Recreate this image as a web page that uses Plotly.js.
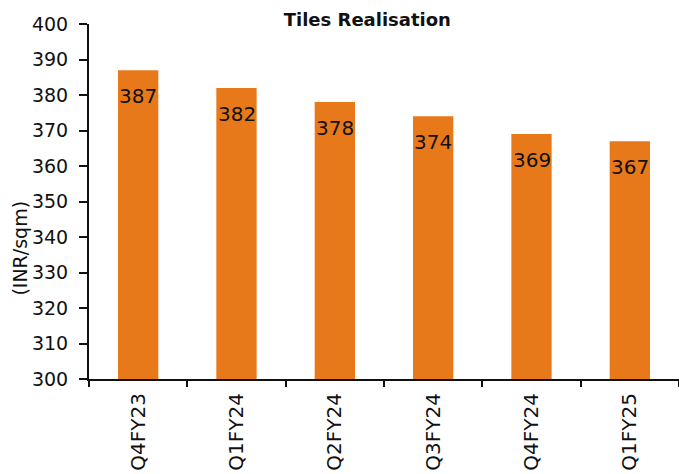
<!DOCTYPE html>
<html>
<head>
<meta charset="utf-8">
<script src="https://cdn.plot.ly/plotly-3.0.1.min.js"></script>
<style>html,body{margin:0;padding:0;background:#fff;}#chart{width:679px;height:474px;}</style>
</head>
<body>
<div id="chart"></div>
<script>
const categories = ["Q4FY23", "Q1FY24", "Q2FY24", "Q3FY24", "Q4FY24", "Q1FY25"];
const realisation = [387, 382, 378, 374, 369, 367];
const yTickValues = [300, 310, 320, 330, 340, 350, 360, 370, 380, 390, 400];

const FONT = "DejaVu Sans, Arial, sans-serif";

const trace = {
  type: "bar",
  x: categories,
  y: realisation,
  marker: {color: "#E8791A", line: {width: 0}},
  width: 0.41,
  hoverinfo: "x+y"
};

const labels = categories.map((c, i) => ({
  x: c, y: realisation[i], xref: "x", yref: "y",
  text: String(realisation[i]), showarrow: false,
  yshift: -26, font: {family: FONT, size: 20, color: "#111"}
}));

labels.push({
  xref: "paper", yref: "paper", x: -0.117, y: 0.37, xanchor: "center", yanchor: "middle",
  text: "(INR/sqm)", textangle: -90, showarrow: false,
  font: {family: FONT, size: 19, color: "#111"}
});

const layout = {
  width: 679, height: 474,
  margin: {l: 89, r: 0, t: 24, b: 95},
  paper_bgcolor: "#fff", plot_bgcolor: "#fff",
  showlegend: false,
  title: {text: "<b>Tiles Realisation</b>", x: 0.541, xanchor: "center", y: 0.958, yanchor: "middle",
          font: {family: FONT, size: 18, color: "#111"}},
  xaxis: {
    type: "category",
    showline: true, linecolor: "#111", linewidth: 2,
    ticks: "outside", tickson: "boundaries", ticklen: 6, tickwidth: 2, tickcolor: "#111",
    tickangle: -90, tickfont: {family: FONT, size: 20, color: "#111"},
    ticklabelstandoff: 4,
    showgrid: false, zeroline: false
  },
  yaxis: {
    range: [300, 400], tickvals: yTickValues,
    showline: true, linecolor: "#111", linewidth: 2,
    ticks: "outside", ticklen: 8, tickwidth: 2, tickcolor: "#111",
    tickfont: {family: FONT, size: 19, color: "#111"},
    ticklabelstandoff: 7,
    showgrid: false, zeroline: false
  },
  annotations: labels
};

Plotly.newPlot("chart", [trace], layout, {displayModeBar: false, staticPlot: true});
</script>
</body>
</html>
